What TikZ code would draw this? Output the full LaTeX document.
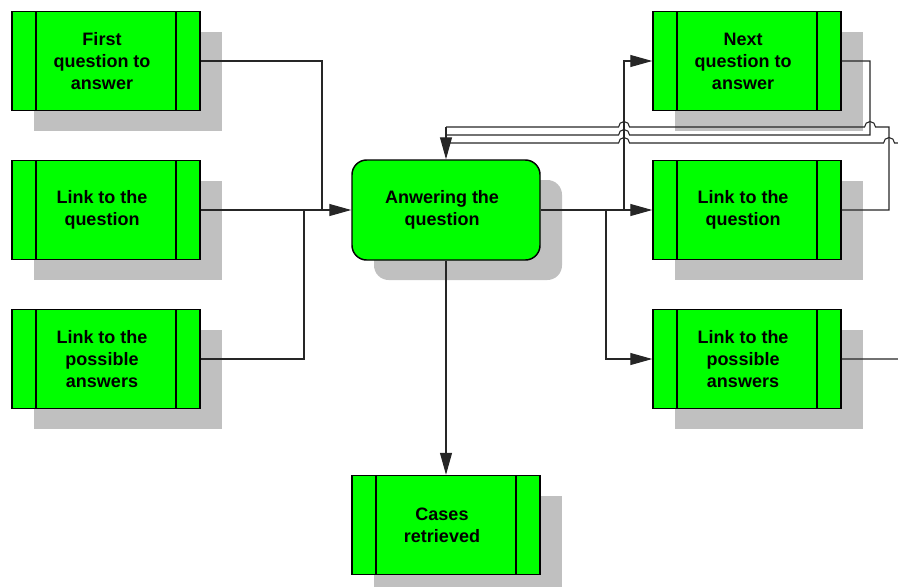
\documentclass[tikz,border=0pt]{standalone}
\usepackage{fontspec}
\setmainfont{Liberation Sans}
\usetikzlibrary{arrows.meta,shadows}
\definecolor{boxgreen}{HTML}{00FF00}
\definecolor{shadegray}{HTML}{C0C0C0}
\tikzset{
  boxbase/.style={draw=black, line width=1.1pt, fill=boxgreen,
    minimum width=141pt, minimum height=74.25pt, inner sep=0pt,
    general shadow={fill=shadegray, shadow xshift=16.5pt, shadow yshift=-15pt}},
  procbox/.style={boxbase,
    path picture={
      \draw[line width=1.1pt] ([xshift=18pt]path picture bounding box.north west) -- ([xshift=18pt]path picture bounding box.south west);
      \draw[line width=1.1pt] ([xshift=-18pt]path picture bounding box.north east) -- ([xshift=-18pt]path picture bounding box.south east);
    }},
  roundbox/.style={boxbase, rounded corners=11pt},
  txt/.style={align=center, inner sep=0pt, xshift=-3pt,
    font=\bfseries\fontsize{13.5pt}{16.5pt}\selectfont},
  conn/.style={draw=black!85, line width=0.8pt},
  arr/.style={conn, -{Triangle[length=16.5pt,width=9pt]}},
  hop/.style={}
}
\newcommand{\hopr}{arc[start angle=0, end angle=180, radius=4.1pt]}
\begin{document}
\begin{tikzpicture}[x=0.75pt, y=-0.75pt]
\useasboundingbox (0,0) rectangle (898,586);
\clip (0,0) rectangle (898,586);

% blocks
\node[procbox, label={[txt]center:First\\question to\\answer}] (first) at (106,61) {};
\node[procbox, label={[txt]center:Link to the\\question}] (linkq) at (106,210) {};
\node[procbox, label={[txt]center:Link to the\\possible\\answers}] (linka) at (106,359) {};
\node[roundbox, minimum height=75pt, label={[txt]center:Anwering the\\question}] (ans) at (446,210) {};
\node[procbox, label={[txt]center:Cases\\retrieved}] (cases) at (446,525) {};
\node[procbox, label={[txt]center:Next\\question to\\answer}] (next) at (747,61) {};
\node[procbox, label={[txt]center:Link to the\\question}] (rlinkq) at (747,210) {};
\node[procbox, label={[txt]center:Link to the\\possible\\answers}] (rlinka) at (747,359) {};

% junction points
\coordinate (jfirst) at (322,210);
\coordinate (jposs) at (304,210);
\coordinate (jdown) at (606,210);
\coordinate (jup) at (624,210);
\coordinate (top) at (446,127);

% inputs merging into the central step
\draw[conn] (first.east) -| (jfirst);
\draw[conn] (linka.east) -| (jposs);
\draw[arr] (linkq.east) -- (ans.west);

% outputs
\draw[arr] (ans.east) -- (rlinkq.west);
\draw[arr] (jdown) |- (rlinka.west);
\draw[arr] (jup) |- (next.west);
\draw[arr] (ans.south) -- (cases.north);

% feedback lines with line hops
\draw[conn] (rlinkq.east) -- (889,210) -- (889,127) -- (875.5,127) \hopr
  -- (629.5,127) \hopr -- (top);
\draw[arr] (top) -- (ans.north);
\draw[conn] (next.east) -- (870,61) -- (870,135) -- (629.5,135) \hopr -- (446,135);
\draw[conn] (rlinka.east) -- (910,359) -- (910,143) -- (894.5,143) \hopr
  -- (629.5,143) \hopr -- (446,143);
\end{tikzpicture}
\end{document}
